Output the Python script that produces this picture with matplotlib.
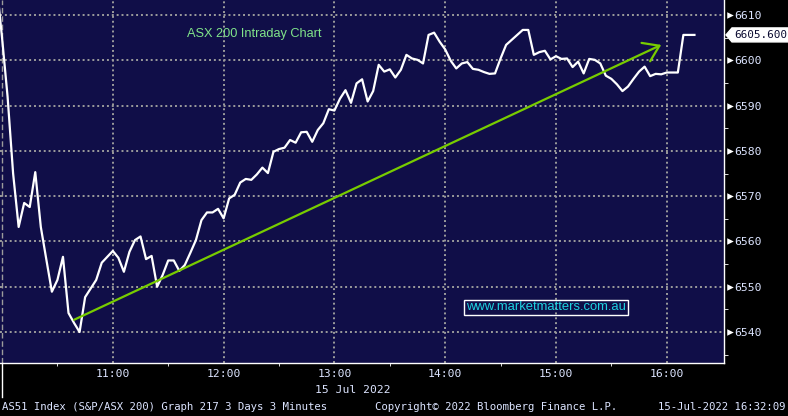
import matplotlib
matplotlib.use("Agg")
import matplotlib.pyplot as plt
from matplotlib.patches import Polygon
from matplotlib.transforms import IdentityTransform

# 3-minute bars, 15 Jul 2022
times = ["10:00", "10:03", "10:06", "10:09", "10:12", "10:15", "10:18", "10:21", "10:24", "10:27",
         "10:30", "10:33", "10:36", "10:39", "10:42", "10:45", "10:48", "10:51", "10:54", "10:57",
         "11:00", "11:03", "11:06", "11:09", "11:12", "11:15", "11:18", "11:21", "11:24", "11:27",
         "11:30", "11:33", "11:36", "11:39", "11:42", "11:45", "11:48", "11:51", "11:54", "11:57",
         "12:00", "12:03", "12:06", "12:09", "12:12", "12:15", "12:18", "12:21", "12:24", "12:27",
         "12:30", "12:33", "12:36", "12:39", "12:42", "12:45", "12:48", "12:51", "12:54", "12:57",
         "13:00", "13:03", "13:06", "13:09", "13:12", "13:15", "13:18", "13:21", "13:24", "13:27",
         "13:30", "13:33", "13:36", "13:39", "13:42", "13:45", "13:48", "13:51", "13:54", "13:57",
         "14:00", "14:03", "14:06", "14:09", "14:12", "14:15", "14:18", "14:21", "14:24", "14:27",
         "14:30", "14:33", "14:36", "14:39", "14:42", "14:45", "14:48", "14:51", "14:54", "14:57",
         "15:00", "15:03", "15:06", "15:09", "15:12", "15:15", "15:18", "15:21", "15:24", "15:27",
         "15:30", "15:33", "15:36", "15:39", "15:42", "15:45", "15:48", "15:51", "15:54", "15:57",
         "16:00", "16:03", "16:06", "16:09", "16:12", "16:15"]
prices = [6605.0, 6592.0, 6575.0, 6563.2, 6568.5, 6567.6, 6575.3, 6563.2, 6556.0, 6548.9,
          6551.5, 6556.6, 6544.2, 6542.0, 6540.0, 6547.7, 6549.6, 6551.5, 6555.3, 6556.6,
          6557.9, 6556.4, 6553.3, 6557.7, 6560.3, 6561.1, 6556.1, 6556.8, 6550.0, 6552.6,
          6555.8, 6555.8, 6553.5, 6554.8, 6557.5, 6560.3, 6564.7, 6566.4, 6566.4, 6567.2,
          6565.1, 6569.5, 6570.3, 6573.0, 6573.8, 6573.6, 6574.8, 6576.3, 6575.1, 6579.8,
          6580.4, 6580.7, 6582.4, 6581.8, 6584.1, 6584.2, 6582.0, 6584.6, 6586.1, 6589.2,
          6588.9, 6591.5, 6593.4, 6590.6, 6594.9, 6595.8, 6590.9, 6593.2, 6599.0, 6597.5,
          6598.0, 6596.2, 6597.9, 6601.2, 6600.4, 6600.1, 6599.3, 6605.6, 6606.1, 6604.1,
          6602.4, 6599.9, 6598.2, 6599.3, 6599.6, 6598.1, 6597.9, 6597.4, 6597.0, 6597.1,
          6600.4, 6603.4, 6604.5, 6605.6, 6606.7, 6606.7, 6601.2, 6601.8, 6602.1, 6600.2,
          6600.9, 6600.3, 6600.4, 6598.5, 6599.7, 6597.1, 6600.3, 6600.1, 6599.3, 6596.6,
          6595.9, 6594.7, 6593.2, 6594.2, 6595.9, 6597.5, 6598.6, 6596.5, 6597.0, 6596.9,
          6597.3, 6597.3, 6597.3, 6605.6, 6605.6, 6605.6]
prev_close = 6617.0  # last bar of the previous session, drawn one bar before the open

arrow_start = ("10:39", 6542.7)
arrow_end = ("15:57", 6603.4)

hour_labels = ["11:00", "12:00", "13:00", "14:00", "15:00", "16:00"]
half_hours = ["10:30", "11:30", "12:30", "13:30", "14:30", "15:30"]
price_ticks = [6540, 6550, 6560, 6570, 6580, 6590, 6600, 6610]
price_minor = [6535, 6545, 6555, 6565, 6575, 6585, 6595, 6605]


def to_min(s):
    h, m = s.split(":")
    return (int(h) - 10) * 60 + int(m)


x = [to_min(t) for t in times]

bg = "#100e48"
txt = "#dce4ff"
mono = "DejaVu Sans Mono"

fig = plt.figure(figsize=(7.88, 4.16), dpi=100, facecolor="black")
ax = fig.add_axes([0, 53 / 416, 724 / 788, 363 / 416])
ax.set_facecolor(bg)
ax.set_xlim(-1.1, 391)
ax.set_ylim(6533.16, 6613.31)

# grid
ax.set_axisbelow(True)
ax.grid(True, which="major", color="#9c9c9c", linestyle=(0, (1, 1.5)), linewidth=1.4)
ax.axvline(0, color="#9c9c9c", linestyle=(0, (4, 2)), linewidth=1)

# price line
ax.plot([-3] + x, [prev_close] + prices, color="white", lw=1.6, zorder=3)

# trend arrow
ax.annotate("", xy=(to_min(arrow_end[0]), arrow_end[1]),
            xytext=(to_min(arrow_start[0]), arrow_start[1]),
            arrowprops=dict(arrowstyle="->,head_length=1.08,head_width=0.73",
                            color="#78cc00", lw=1.6, mutation_scale=10,
                            shrinkA=0, shrinkB=0), zorder=4)

# axes frame
for s in ["top", "left"]:
    ax.spines[s].set_visible(False)
for s in ["right", "bottom"]:
    ax.spines[s].set_color("white")
    ax.spines[s].set_linewidth(1)

ax.set_xticks([to_min(h) for h in hour_labels])
ax.set_xticklabels(hour_labels)
ax.set_xticks([to_min(h) for h in half_hours], minor=True)
ax.tick_params(axis="x", which="major", length=0, pad=4.5, labelsize=8.2, labelcolor=txt)
ax.tick_params(axis="x", which="minor", length=2.4, color="white", direction="out")

ax.yaxis.tick_right()
ax.set_yticks(price_ticks)
ax.set_yticklabels([str(p) for p in price_ticks])
ax.set_yticks(price_minor, minor=True)
ax.tick_params(axis="y", which="major", length=0, pad=7.3, labelsize=8.2, labelcolor=txt)
ax.tick_params(axis="y", which="minor", length=2.6, color="white", direction="out")
for lab in ax.get_xticklabels() + ax.get_yticklabels():
    lab.set_family(mono)

# little arrow heads on the price axis
ax.scatter([1.0076] * len(price_ticks), price_ticks, marker=">", s=22, color="white",
           transform=ax.get_yaxis_transform(), clip_on=False, zorder=5, linewidths=0)

# day separator tick below the axis
ax.plot([0, 0], [0, -0.094], transform=ax.get_xaxis_transform(), clip_on=False,
        color="white", lw=1)

# last price tag
xd, yd = ax.transData.transform((0, prices[-1]))
tip = ax.transAxes.transform((1, 0))[0] + 2
tag = Polygon([(tip, yd), (tip + 6, yd + 7), (800, yd + 7), (800, yd - 7), (tip + 6, yd - 7)],
              closed=True, facecolor="white", edgecolor="white", transform=IdentityTransform())
fig.add_artist(tag)
fig.text((tip + 8) / 788, yd / 416, f"{prices[-1]:.3f}", ha="left", va="center",
         family=mono, fontsize=7.9, color="#0a0a30")

# chart texts
fig.text(187 / 788, 1 - 34 / 416, "ASX 200 Intraday Chart", ha="left", va="center",
         family="Liberation Sans", fontsize=9.2, color="#80e48a")
fig.text(546 / 788, 1 - 307.5 / 416, "www.marketmatters.com.au", ha="center", va="center",
         family="Liberation Sans", fontsize=9.4, color="#1ed2e0",
         bbox=dict(boxstyle="square,pad=0.15", facecolor="none", edgecolor="white", lw=1))

fig.text(353 / 788, 1 - 390 / 416, "15 Jul 2022", ha="center", va="center",
         family=mono, fontsize=8.2, color=txt)
fig.text(2 / 788, 1 - 407.5 / 416, "AS51 Index (S&P/ASX 200) Graph 217 3 Days 3 Minutes",
         ha="left", va="center", family=mono, fontsize=7.7, color=txt)
fig.text(375 / 788, 1 - 407.5 / 416, "Copyright\u00a9 2022 Bloomberg Finance L.P.",
         ha="left", va="center", family=mono, fontsize=7.7, color=txt)
fig.text(786 / 788, 1 - 407.5 / 416, "15-Jul-2022 16:32:09",
         ha="right", va="center", family=mono, fontsize=7.7, color=txt)

fig.savefig("out.png", dpi=100, facecolor="black")
